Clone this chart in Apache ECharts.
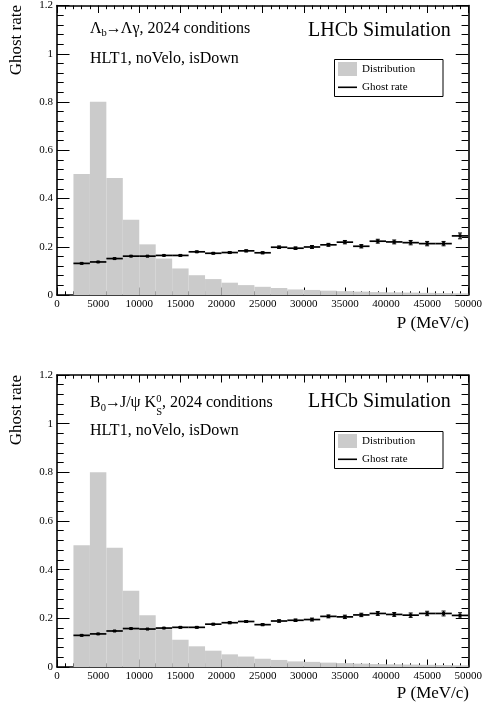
<!DOCTYPE html>
<html>
<head>
<meta charset="utf-8">
<script src="https://cdn.jsdelivr.net/npm/echarts@6/dist/echarts.min.js"></script>
<style>
html,body{margin:0;padding:0;background:#fff;}
#chart{width:485px;height:708px;}
</style>
</head>
<body>
<div id="chart"></div>
<script>
// ---- data ----
const binLow    = [2000,4000,6000,8000,10000,12000,14000,16000,18000,20000,22000,24000,26000,28000,30000,32000,34000,36000,38000,40000,42000,44000,46000,48000];
const binHigh   = [4000,6000,8000,10000,12000,14000,16000,18000,20000,22000,24000,26000,28000,30000,32000,34000,36000,38000,40000,42000,44000,46000,48000,50000];
const binCenter = [3000,5000,7000,9000,11000,13000,15000,17000,19000,21000,23000,25000,27000,29000,31000,33000,35000,37000,39000,41000,43000,45000,47000,49000];

const distTop     = [0.502,0.801,0.485,0.312,0.210,0.151,0.110,0.082,0.066,0.051,0.041,0.034,0.029,0.023,0.021,0.018,0.016,0.014,0.012,0.011,0.010,0.009,0.008,0.007];
const ghostTop    = [0.131,0.137,0.151,0.161,0.161,0.164,0.164,0.179,0.173,0.176,0.183,0.175,0.198,0.194,0.199,0.208,0.219,0.202,0.223,0.220,0.217,0.213,0.213,0.245];
const errTop      = [0.002,0.002,0.002,0.002,0.002,0.002,0.003,0.003,0.003,0.004,0.004,0.004,0.005,0.005,0.006,0.006,0.007,0.007,0.008,0.008,0.009,0.009,0.009,0.012];

const distBottom  = [0.500,0.800,0.490,0.313,0.213,0.155,0.112,0.085,0.067,0.052,0.043,0.034,0.029,0.023,0.021,0.018,0.016,0.014,0.012,0.011,0.010,0.009,0.008,0.007];
const ghostBottom = [0.130,0.136,0.148,0.158,0.156,0.160,0.163,0.163,0.176,0.182,0.187,0.174,0.189,0.192,0.195,0.208,0.206,0.214,0.220,0.216,0.213,0.220,0.220,0.212];
const errBottom   = [0.002,0.002,0.002,0.002,0.002,0.002,0.003,0.003,0.003,0.004,0.004,0.004,0.005,0.005,0.006,0.006,0.007,0.007,0.008,0.008,0.009,0.009,0.010,0.011];

const xTickValues = [0,5000,10000,15000,20000,25000,30000,35000,40000,45000,50000];
const yTickValues = [0,0.2,0.4,0.6,0.8,1,1.2];

// ---- layout / style ----
const SERIF = '"Liberation Serif", "Times New Roman", serif';
const GRAY = '#cbcbcb';
const grids = [
  {left: 57, top: 4, width: 413, height: 291},
  {left: 57, top: 375, width: 413, height: 292}
];

const mctx = document.createElement('canvas').getContext('2d');
function tw(t, size){ mctx.font = size + 'px ' + SERIF; return mctx.measureText(t).width; }
function midY(baseline, size){ return baseline - 0.3375 * size; }
function txt(t, x, baseline, size, extra){
  return Object.assign({type:'text', x:x, y:midY(baseline,size), silent:true,
    style:{text:t, font: size+'px '+SERIF, fill:'#000', verticalAlign:'middle', align:'left'}}, extra||{});
}
// parts: {t,size,dy,adv} or {stack,sup,sub,size,dyUp,dyDown}
function lineOf(parts, x0, baseline){
  const out=[]; let x=x0;
  parts.forEach(p=>{
    if(p.stack){
      out.push(txt(p.sup, x, baseline + p.dyUp, p.size));
      out.push(txt(p.sub, x, baseline + p.dyDown, p.size));
      x += Math.max(tw(p.sup,p.size), tw(p.sub,p.size));
    } else {
      out.push(txt(p.t, x + (p.dx||0), baseline + (p.dy||0), p.size));
      x += tw(p.t, p.size) + (p.adv||0);
    }
  });
  return out;
}

const MAIN = 16;
const graphics = [];
// Panel 1 texts
graphics.push(...lineOf([
  {t:'Λ', size:MAIN}, {t:'b', size:10.5, dy:2.5}, {t:'→', size:MAIN, dx:-1, adv:-2}, {t:'Λγ, 2024 conditions', size:MAIN}
], 90, 34.3));
graphics.push(txt('HLT1, noVelo, isDown', 90, 64.3, MAIN));
graphics.push(txt('LHCb Simulation', 308, 37.3, 20));
// Panel 2 texts
graphics.push(...lineOf([
  {t:'B', size:MAIN}, {t:'0', size:10.5, dy:3}, {t:'→', size:MAIN, dx:-1, adv:-2}, {t:'J/ψ K', size:MAIN},
  {stack:true, sup:'0', sub:'S', size:10.5, dyUp:-5.5, dyDown:7}, {t:', 2024 conditions', size:MAIN}
], 90, 408.3));
graphics.push(txt('HLT1, noVelo, isDown', 90, 435.7, MAIN));
graphics.push(txt('LHCb Simulation', 308, 408.3, 20));

// Axis titles
[5, 375].forEach(top=>{
  graphics.push({type:'text', x:17, y:top, rotation:Math.PI/2, silent:true,
    style:{text:'Ghost rate', font:'17px '+SERIF, fill:'#000', align:'right', verticalAlign:'middle'}});
});
[329.3, 699].forEach(b=>{
  graphics.push({type:'text', x:469, y:midY(b,17), silent:true,
    style:{text:'P (MeV/c)', font:'17px '+SERIF, fill:'#000', align:'right', verticalAlign:'middle'}});
});

// Legends
[59, 431].forEach(top=>{
  graphics.push({type:'rect', shape:{x:334.5, y:top+0.5, width:108.5, height:37}, silent:true,
    style:{fill:'#fff', stroke:'#000', lineWidth:1}, z:10});
  graphics.push({type:'rect', shape:{x:338, y:top+3, width:19, height:14}, silent:true,
    style:{fill:GRAY}, z:11});
  graphics.push({type:'line', shape:{x1:338, y1:top+28.3, x2:357, y2:top+28.3}, silent:true,
    style:{stroke:'#000', lineWidth:1.6}, z:11});
  graphics.push(Object.assign(txt('Distribution', 362, top+14, 11), {z:11}));
  graphics.push(Object.assign(txt('Ghost rate', 362, top+32, 11), {z:11}));
});

// ---- axes ----
const labelStyle = {color:'#000', fontFamily:SERIF, fontSize:11};
function xAx(gi, pos){
  return {type:'value', gridIndex:gi, position:pos, min:0, max:50000, interval:5000,
    axisLine:{show:true, onZero:false, lineStyle:{color:'#000', width:1.6}},
    axisTick:{show:true, inside:true, length:7.5, lineStyle:{color:'#000', width:1}},
    minorTick:{show:true, splitNumber:5, length:3.7, lineStyle:{color:'#000', width:1}},
    splitLine:{show:false},
    axisLabel:{show: pos==='bottom', margin:4, showMinLabel:true, showMaxLabel:true,
      formatter: v => String(v), ...labelStyle}};
}
function yAx(gi, pos){
  return {type:'value', gridIndex:gi, position:pos, min:0, max:1.2, interval:0.2,
    axisLine:{show:true, onZero:false, lineStyle:{color:'#000', width:1.6}},
    axisTick:{show:true, inside:true, length:12.5, lineStyle:{color:'#000', width:1}},
    minorTick:{show:true, splitNumber:5, length:6.7, lineStyle:{color:'#000', width:1}},
    splitLine:{show:false},
    axisLabel:{show: pos==='left', margin:4, showMinLabel:true, showMaxLabel:true,
      formatter: v => String(Math.round(v*10)/10), ...labelStyle}};
}

function distData(d){ return d.map((v,i)=>[binLow[i], binHigh[i], v]); }
function ghostData(g,e){ return g.map((v,i)=>[binLow[i], binHigh[i], binCenter[i], v, e[i]]); }

function distRender(params, api){
  const p0 = api.coord([api.value(0), api.value(2)]);
  const p1 = api.coord([api.value(1), 0]);
  return {type:'rect', shape:{x:p0[0], y:p0[1], width:p1[0]-p0[0], height:p1[1]-p0[1]},
    style:{fill:GRAY}};
}
function ghostRender(params, api){
  const lo=api.value(0), hi=api.value(1), c=api.value(2), y=api.value(3), e=api.value(4);
  const a = api.coord([lo,y]), b = api.coord([hi,y]);
  const up = api.coord([c,y+e]), dn = api.coord([c,y-e]), m = api.coord([c,y]);
  const st = {stroke:'#000', lineWidth:1.7};
  const ch = [
    {type:'line', shape:{x1:a[0], y1:a[1], x2:b[0], y2:b[1]}, style:st},
    {type:'line', shape:{x1:up[0], y1:up[1], x2:dn[0], y2:dn[1]}, style:{stroke:'#000', lineWidth:1.2}},
    {type:'line', shape:{x1:up[0]-2, y1:up[1], x2:up[0]+2, y2:up[1]}, style:{stroke:'#000', lineWidth:1}},
    {type:'line', shape:{x1:dn[0]-2, y1:dn[1], x2:dn[0]+2, y2:dn[1]}, style:{stroke:'#000', lineWidth:1}},
    {type:'rect', shape:{x:m[0]-1.5, y:m[1]-1.5, width:3, height:3}, style:{fill:'#000'}}
  ];
  return {type:'group', children:ch};
}

const option = {
  animation:false,
  backgroundColor:'#fff',
  grid: grids.map(g=>Object.assign({containLabel:false}, g)),
  xAxis: [xAx(0,'bottom'), xAx(0,'top'), xAx(1,'bottom'), xAx(1,'top')],
  yAxis: [yAx(0,'left'), yAx(0,'right'), yAx(1,'left'), yAx(1,'right')],
  series: [
    {name:'Distribution', type:'custom', xAxisIndex:0, yAxisIndex:0, renderItem:distRender,
      data:distData(distTop), encode:{x:[0,1], y:2}, z:1},
    {name:'Ghost rate', type:'custom', xAxisIndex:0, yAxisIndex:0, renderItem:ghostRender,
      data:ghostData(ghostTop, errTop), encode:{x:[0,1,2], y:3}, z:3},
    {name:'Distribution', type:'custom', xAxisIndex:2, yAxisIndex:2, renderItem:distRender,
      data:distData(distBottom), encode:{x:[0,1], y:2}, z:1},
    {name:'Ghost rate', type:'custom', xAxisIndex:2, yAxisIndex:2, renderItem:ghostRender,
      data:ghostData(ghostBottom, errBottom), encode:{x:[0,1,2], y:3}, z:3}
  ],
  graphic: graphics
};

const chart = echarts.init(document.getElementById('chart'), null, {renderer:'canvas'});
chart.setOption(option);
</script>
</body>
</html>
